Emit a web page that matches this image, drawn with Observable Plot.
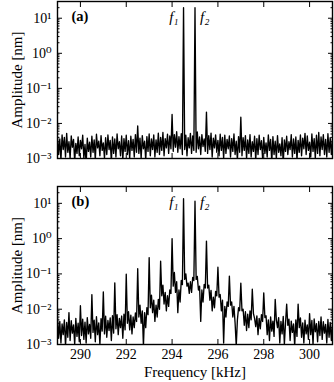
<!DOCTYPE html>
<html><head><meta charset="utf-8">
<script src="https://cdn.jsdelivr.net/npm/d3@7"></script>
<script src="https://cdn.jsdelivr.net/npm/@observablehq/plot@0.6"></script>
<style>
body{margin:0;background:#fff}
svg{display:block}
#chart svg, #chart svg text {font-family: "Liberation Serif", "DejaVu Serif", serif !important;}
#chart g[aria-label="y-axis tick label"], #chart g[aria-label="x-axis tick label"] {font-size: 14px !important;}
#chart g[aria-label="y-axis label"], #chart g[aria-label="x-axis label"] {font-size: 15px !important;}
</style>
</head><body><div id="chart"></div>
<script>
// frequency grid of the sampled spectra (kHz)
const fStart = 289, fStep = 0.05;
// (a) amplitude spectrum [nm], one value per 0.05 kHz from 289.00 to 301.00
const ampA = [
.0042,.0013,.0036,.0009,.0047,.0018,.0040,.0011,.0052,.0015,
.0030,.0010,.0044,.0021,.0035,.0008,.0027,.0014,.0041,.0012,
.0033,.0019,.0046,.0010,.0025,.0007,.0038,.0016,.0029,.0011,
.0043,.0015,.0034,.0009,.0049,.0020,.0031,.0012,.0045,.0017,
.0028,.0010,.0039,.0013,.0047,.0018,.0033,.0008,.0041,.0014,
.0036,.0011,.0050,.0019,.0030,.0012,.0044,.0009,.0037,.0016,
.0046,.0013,.0032,.0010,.0043,.0017,.0035,.0011,.0048,.0015,
.0085,.0014,.0038,.0010,.0045,.0019,.0031,.0009,.0042,.0016,
.0050,.0012,.0036,.0018,.0047,.0011,.0034,.0015,.0053,.0013,
.0040,.0017,.0055,.0012,.0037,.0020,.0049,.0014,.0044,.0019,
.018,.0016,.0048,.0021,.0058,.0015,.0042,.0019,.0051,.0013,
20,.0018,.0046,.0012,.0039,.0020,.0052,.0014,.0044,.0017,
20,.0015,.0057,.0019,.0041,.0013,.0048,.0022,.0036,.0016,
.021,.0014,.0045,.0018,.0053,.0011,.0038,.0020,.0047,.0015,
.0033,.0012,.0049,.0017,.0040,.0010,.0046,.0014,.0035,.0019,
.0044,.0011,.0037,.0016,.0050,.0013,.0031,.0009,.0042,.0015,
.015,.0012,.0039,.0017,.0045,.0010,.0034,.0014,.0048,.0011,
.0030,.0016,.0043,.0009,.0037,.0013,.0046,.0018,.0032,.0010,
.0040,.0014,.0028,.0011,.0047,.0017,.0035,.0008,.0042,.0013,
.0031,.0010,.0045,.0015,.0026,.0012,.0039,.0007,.0034,.0016,
.0043,.0013,.0030,.0018,.0048,.0011,.0036,.0014,.0041,.0009,
.0033,.0015,.0047,.0012,.0038,.0019,.0052,.0013,.0044,.0017,
.0029,.0011,.0050,.0016,.0037,.0010,.0046,.0014,.0055,.0012,
.0041,.0018,.0048,.0013,.0035,.0011,.0051,.0015,.0039,.0013,
.0037];
// (b) amplitude spectrum [nm], same grid
const ampB = [
.006,.0015,.0045,.0011,.0038,.0019,.0050,.0009,.0042,.0016,
.008,.0013,.0047,.0021,.0036,.0010,.0055,.0017,.0040,.0012,
.0125,.0018,.0052,.0014,.0043,.0011,.0058,.0020,.0037,.0015,
.026,.0022,.0049,.0012,.0061,.0019,.0041,.0010,.0054,.0024,
.031,.0020,.0063,.0016,.0048,.0025,.0057,.0013,.0066,.0021,
.056,.0028,.0070,.0019,.0055,.0030,.0064,.0015,.0072,.0026,
.098,.0040,.0085,.0026,.0068,.0020,.0060,.0030,.0078,.0045,
.14,.006,.013,.004,.009,.0009,.008,.003,.011,.007,
.29,.011,.025,.008,.018,.0045,.013,.006,.019,.010,
.23,.024,.048,.014,.030,.009,.024,.012,.035,.028,
1.0,.045,.11,.030,.060,.008,.035,.016,.065,.050,
13.5,.07,.10,.045,.055,.028,.060,.030,.080,.065,
11.5,.07,.085,.035,.045,.0045,.035,.016,.050,.040,
.85,.040,.048,.018,.034,.009,.022,.011,.032,.024,
.155,.022,.026,.009,.018,.0011,.012,.006,.016,.012,
.087,.013,.016,.006,.012,.0040,.0009,.005,.011,.009,
.055,.009,.010,.0035,.0085,.0025,.0072,.0030,.0090,.0050,
.037,.0075,.0055,.0032,.0065,.0019,.0055,.0028,.0070,.0045,
.029,.0058,.0065,.0019,.0050,.0013,.0060,.0024,.0046,.0017,
.019,.0050,.0030,.0058,.0011,.0045,.0020,.0062,.0010,.0040,
.014,.0035,.0052,.0013,.0046,.0022,.0038,.0009,.0050,.0017,
.014,.0030,.0057,.0016,.0041,.0011,.0049,.0020,.0036,.0014,
.0075,.0019,.0048,.0010,.0053,.0023,.0039,.0012,.0045,.0018,
.0060,.0014,.0044,.0021,.0037,.0011,.0051,.0016,.0042,.0013,
.0040];
const peakFreqs = [294.5, 295.0];
const peakLabels = ["f₁", "f₂"];
const panelLabels = ["(a)", "(b)"];
const xTicks = [290, 292, 294, 296, 298, 300];
const yTicks = [1e-3, 1e-2, 1e-1, 1, 10];
const xDomain = [289, 301];
const yDomain = [1e-3, 30];

const minorY = [];
for (let d = -3; d <= 1; d++) for (let k = 2; k <= 9; k++) { const v = k * 10 ** d; if (v <= yDomain[1]) minorY.push(v); }
const sup = {"-":"⁻","0":"⁰","1":"¹","2":"²","3":"³"};
const fmtY = d => "10" + String(Math.round(Math.log10(d))).split("").map(c => sup[c]).join("");
const blank = () => "";

function spectrum(amps) { return amps.map((a, i) => ({f: fStart + i * fStep, a})); }

function panel(amps, label, bottom) {
  const data = spectrum(amps);
  return Plot.plot({
    width: 334, height: bottom ? 214 : 168,
    marginLeft: 57, marginRight: 2, marginTop: bottom ? 18 : 1, marginBottom: bottom ? 38 : 10,
    style: {color: "#000", background: "#fff"},
    x: {domain: xDomain},
    y: {type: "log", domain: yDomain},
    marks: [
      Plot.line(data, {x: "f", y: "a", stroke: "#000", strokeWidth: 1.35, clip: true}),
      Plot.axisY(yTicks, {tickSize: -5, tickPadding: 11, tickFormat: fmtY, label: "Amplitude [nm]", labelAnchor: "center", labelArrow: "none", labelOffset: 46}),
      Plot.axisY(yTicks, {anchor: "right", tickSize: -5, tickFormat: blank, label: null}),
      Plot.axisY(minorY, {tickSize: -2.5, tickFormat: blank, label: null}),
      Plot.axisY(minorY, {anchor: "right", tickSize: -2.5, tickFormat: blank, label: null}),
      Plot.axisX(xTicks, {anchor: "top", tickSize: -5, tickFormat: blank, label: null}),
      Plot.axisX(xTicks, {anchor: "bottom", tickSize: -5, tickPadding: 10, tickFormat: bottom ? (d => String(d)) : blank,
        label: bottom ? "Frequency [kHz]" : null, labelAnchor: "center", labelArrow: "none", labelOffset: 32}),
      Plot.frame({stroke: "#000", strokeWidth: 1.4}),
      Plot.text([label], {frameAnchor: "top-left", dx: 14, dy: 15, fontWeight: "bold", fontSize: 14.5, lineAnchor: "middle", textAnchor: "start"}),
      Plot.text([peakFreqs[0]], {x: d => d, text: () => peakLabels[0], frameAnchor: "top", dy: 16, lineAnchor: "middle",
        textAnchor: "end", dx: -5, fontStyle: "italic", fontSize: 15}),
      Plot.text([peakFreqs[1]], {x: d => d, text: () => peakLabels[1], frameAnchor: "top", dy: 16, lineAnchor: "middle",
        textAnchor: "start", dx: 5, fontStyle: "italic", fontSize: 15})
    ]
  });
}
const root = document.getElementById("chart");
root.append(panel(ampA, panelLabels[0], false));
root.append(panel(ampB, panelLabels[1], true));
</script></body></html>
